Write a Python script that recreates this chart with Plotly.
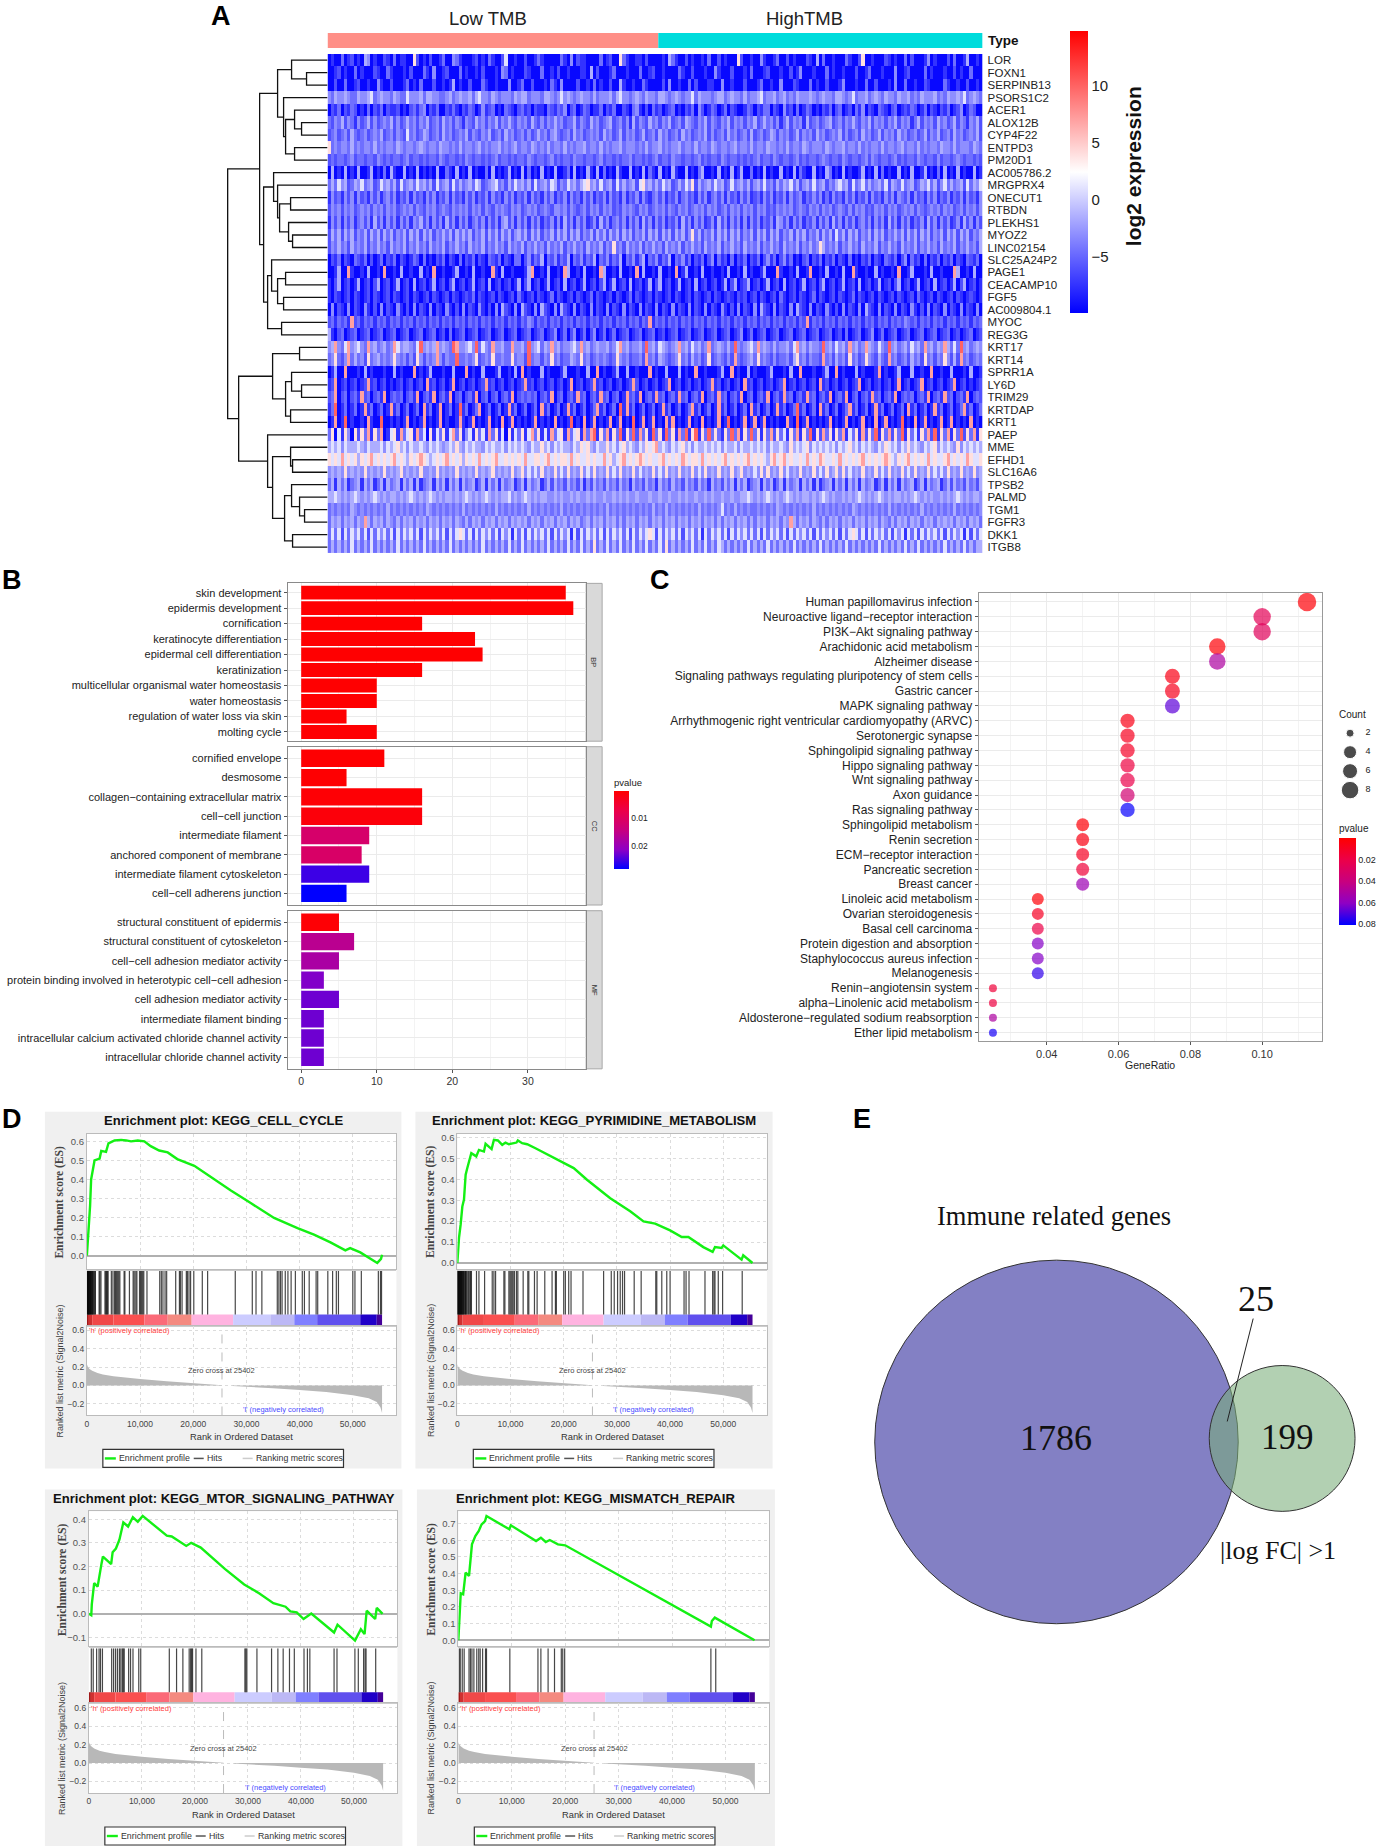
import plotly.graph_objects as go

W, H = 1381, 1847
SANS = "Liberation Sans"
SERIF = "Liberation Serif"

# ---------- Panel A data ----------
GENES = ["LOR","FOXN1","SERPINB13","PSORS1C2","ACER1","ALOX12B","CYP4F22","ENTPD3","PM20D1","AC005786.2",
         "MRGPRX4","ONECUT1","RTBDN","PLEKHS1","MYOZ2","LINC02154","SLC25A24P2","PAGE1","CEACAMP10","FGF5",
         "AC009804.1","MYOC","REG3G","KRT17","KRT14","SPRR1A","LY6D","TRIM29","KRTDAP","KRT1",
         "PAEP","MME","EFHD1","SLC16A6","TPSB2","PALMD","TGM1","FGFR3","DKK1","ITGB8"]
EXPR_LEVELS = [-9.5, -7.5, -6, -4.5, -3, -1.5, 1, 4, 7, 10]
EXPR_ROWS = [
"01003012010540100210301100720102001300431000120103100260010020013100000310402110000301200731001102000010531002010010300201000720010041001300201000210503001000310027001000210100302000140100020300150010",
"00120100301000210031000102000310400120003010010200010430100021000300102001000110502000130001000300120010000310020001004100020001030001200010020140001000301001000200130001000400120000301000100201003000",
"00200300120010041002000130103000200101501002000310010004001300200010310400002001030100200510010031000020400100302000110040010002000130010040002100030100200014000100300200010400300100210000310010020010",
"43544543354456345443543364445355443345345445356443543444354553444355434645434544353444535644345435443554345434463544434553454435344563445345343544454345443554346344534543544354453435444534354454634543",
"02130213201030213021120102313402130021310213201412301032102312021103213240230132011302130021034102031201230102130420132013021001320213302104120301320102130230120314021032102301213201302102130124013200",
"32435243142352423435242353424352342534243143253424352435324342532424353423352432534234523424152432534243523425432435243243524342435235342413524341523423452342435324352434243524341352434253423524314352",
"23423425323423435234243263423542342534234352432435234253423424235342453234253423434253423524342352342534234253423435242342534234252342354243423524342534234352423425342352434253423423524352342534234352",
"73434435343443534344354344345434435443435344345343445343453443543435344353434453443534344534443435344534344534435344354344345344353443544343534435434443543445344353434435344345344353434435443534443543",
"23233234233233243232332342332323324323323243233232342332323324323323423233243323323423323233423323234233243323323423233243233232323423324323323423233234323324323323424323323423233243233242332343233232",
"05010501050015010305100501050101050031050105010030501015010503010501050013050105105030105100501050310501051005010350010501050150030105010050105031005010530105010015010503010050105001501030501050100501",
"35364523546345236453526345364535263452635345365234563425364535263453652436453567453634526353452674535364523536472534536452363453524536342535463524536345243564526346353453625436345235463524635345263546",
"14231424142314241342413241423142413241423142413241423142413241423142413241423142413241423141324142134241324134231424134241423142412314241324142341324241314231424132414231424143241423142413241324142314",
"24342434234342434243423434243243423432434342434243243432434234342343244342432342434243423243432434234342432434234342434234243424342434232434342343243424342343242434232434243423434243234342434234243424",
"14241424134241524142414241435241424152414241342414241452414241424132414152414241241524134241424152414241324152414241241524142414142413241542414241324142415241424134241424152414241324152414241241524142",
"25352535243525352535243525352535243535253535243525352535245352535243525352535243525352535253524352535253525352473524352535253524352535253524352535243525352635253524352535243535253525352435253525352435",
"24353425343524353425343524353425343524353425343524353425343524353425343524353425343524373425343524353425343524353425343524353425343524353425343524353475343524353425343524353425343524353425343524353425",
"02130210321302013021302101320301021302103021302103213021033024132503241325032413250324132503241350324132503241302130240312030213021302413024130102302130213021030102130210321302403120302130213021032130",
"00150081001050010800105001005010800100150010500100810500100015800105001085001050010850010500108050010500108015001050010010500105010015000810010500180010500105008100100501001080015000105001000850010500",
"10250120150120250120150120501201501202501201501205012012015025012015012050120150120250150120501201502501201501205012012015025012501201501205012015012025012015012050120150120250120150120501201502501201",
"10210120210120210120210120210120210120210121302101202101203101202101302101202101302101202101302101202101202101202101202101210212012021012031012021013021012021013021012021012021012031012021012021012101",
"04021040210410204021041020402104021041020402104102040521040521040521040521040210402104021040210402104021040210402104021041020402104052104021040521040210410204021040521040210402104102040210402104021040",
"23132318231323132313231323132313231323132313231323132313231324313231323132313231323132313231323132813231323132313231323132313231323132313231323132813231323132313231323132313232432313231323132313231323",
"51023012301230123012301230123012301203012301230123012301230123012301240130240130240130130123012301230120123012301230123012301240130123012301230123012301230120301230124013012301230123012301230120123012",
"45843684564384534534864554369454584543984456493643844533844539456354845344564845345445346845344539453654345845364534834543539434564845435344536845354439453645384534854364394534536453845354853639453454",
"34732483534273453434743424274243484243393343472343733433734429344243734233543734234343237434233428342543234734253423723432428323453734324233425734243328342534273423743253283423425342734243742528342343",
"01500800010501000100501000801015000100500080100500015001050801000501000150001005008010015005001000801005000501008001000150080100501000150001050080001001500801000501000180100150005001008001005000105001",
"12801201201281201201012012012081201201801201201281201201201281201201201201801201281201201201282012012012801201201201281201201208120120120128012012012081201201201280120120120180120128012012012801201012",
"23802302318230231802323023180231802318023023180230230231802323230231802302318230231823023018231802318230231823023180231823023180230231802318230231823023180231802302318230231802323023180231823023180232",
"13901301301813013018130130130813018013019130138013013018130130130813013018130130138130130918130130130181301301381301301813013013081301301813013913013081301301381301301813013013081301301813013013813013",
"01801901001081009001010180101801018010018101801018010801801010180101080101901080180101801801090180180108180101801080101801901018018018010100810901801010180101801018010801801019010801801018018010108010",
"37061740727381738016718367183607163716837146173618371607163716837161836718367183891738173917392837193719371839179173937317393817393717382736173817391728371738163718273917382739173617382917381739273817",
"56564655565465556465675646556546565456575465655465655646565654655756465655465767546557564675654657678565465675646556565646556465565656465565475656746565656465675646565465765646575654656746565474656565",
"76768676757678676767867657678765676786767576768676786676767686677678676776867667676686756786767876766786767687677686767678676767867676578678676676867687667686767678676767876576786767686766786767687667",
"45454745454745454745457454547445474545474545474545745454745746464745474647454746474547464745474645474647454745474647454745474574546474745474645474547464745747464547454746474547464745474646474547454745",
"35153513451535135153451535151345153515351534513515351534513515345135253425342514253425342534153425341534253425342534153425351535134515351351534515351513451535153515345135153515345135153451352534253425",
"55654545654545654545545456545456545455454565454565454556454565454554454544545445454454454545445444544544544545445445454454454455654545654545654545545456545445454565454565454554545654545445454565454554",
"34343435434343434353434343434354343434343534343434353434343435343434343534343434343435343434343434353435343434343534343463435343433434343543434343435343434343435434343434353434343435343434343534343434",
"35453545354853545354353545354535453545354353545354535453545453545354535453545345354535453535453545354535453545354535453535453545353545354535485354535435354535453545354535435354535453545354545354535453",
"36362636463626364636263646362636463626367636263646362646163626364636263646162636463626364636263646762636463626463616364636263646363626364636263646362636463626367636263646362646163626364636263646162636",
"35353536353536353535363535353635353536353535353635353536353635353536353536353635373536353635363536353637353535363536353653535353635353635353536353535363535353635353535363535353635363535353635353635355",
]
TYPE_NAMES = ["Low TMB", "HighTMB"]
TYPE_SAMPLES = [152, 149]
CB_A_TICKS = [-5, 0, 5, 10]

# ---------- Panel B data ----------
BP_TERMS = ["skin development","epidermis development","cornification","keratinocyte differentiation",
            "epidermal cell differentiation","keratinization","multicellular organismal water homeostasis",
            "water homeostasis","regulation of water loss via skin","molting cycle"]
BP_COUNTS = [35, 36, 16, 23, 24, 16, 10, 10, 6, 10]
BP_P = [0.0001, 0.0001, 0.0001, 0.0001, 0.0001, 0.0001, 0.0001, 0.0001, 0.0002, 0.0002]
CC_TERMS = ["cornified envelope","desmosome","collagen−containing extracellular matrix","cell−cell junction",
            "intermediate filament","anchored component of membrane","intermediate filament cytoskeleton",
            "cell−cell adherens junction"]
CC_COUNTS = [11, 6, 16, 16, 9, 8, 9, 6]
CC_P = [0.0002, 0.0002, 0.0005, 0.001, 0.0115, 0.011, 0.0255, 0.0285]
MF_TERMS = ["structural constituent of epidermis","structural constituent of cytoskeleton",
            "cell−cell adhesion mediator activity","protein binding involved in heterotypic cell−cell adhesion",
            "cell adhesion mediator activity","intermediate filament binding",
            "intracellular calcium activated chloride channel activity","intracellular chloride channel activity"]
MF_COUNTS = [5, 7, 5, 3, 5, 3, 3, 3]
MF_P = [0.0005, 0.016, 0.018, 0.022, 0.023, 0.023, 0.023, 0.023]

# ---------- Panel C data ----------
KEGG_TERMS = ["Human papillomavirus infection","Neuroactive ligand−receptor interaction","PI3K−Akt signaling pathway",
    "Arachidonic acid metabolism","Alzheimer disease","Signaling pathways regulating pluripotency of stem cells",
    "Gastric cancer","MAPK signaling pathway","Arrhythmogenic right ventricular cardiomyopathy (ARVC)",
    "Serotonergic synapse","Sphingolipid signaling pathway","Hippo signaling pathway","Wnt signaling pathway",
    "Axon guidance","Ras signaling pathway","Sphingolipid metabolism","Renin secretion","ECM−receptor interaction",
    "Pancreatic secretion","Breast cancer","Linoleic acid metabolism","Ovarian steroidogenesis","Basal cell carcinoma",
    "Protein digestion and absorption","Staphylococcus aureus infection","Melanogenesis","Renin−angiotensin system",
    "alpha−Linolenic acid metabolism","Aldosterone−regulated sodium reabsorption","Ether lipid metabolism"]
KEGG_COUNT = [9,8,8,7,7,6,6,6,5,5,5,5,5,5,5,4,4,4,4,4,3,3,3,3,3,3,2,2,2,2]
KEGG_RATIO = [0.1125,0.1,0.1,0.0875,0.0875,0.075,0.075,0.075,0.0625,0.0625,0.0625,0.0625,0.0625,0.0625,0.0625,
              0.05,0.05,0.05,0.05,0.05,0.0375,0.0375,0.0375,0.0375,0.0375,0.0375,0.025,0.025,0.025,0.025]
KEGG_P = [0.002,0.025,0.027,0.002,0.05,0.006,0.008,0.068,0.006,0.009,0.011,0.018,0.021,0.035,0.08,
          0.002,0.005,0.010,0.016,0.056,0.002,0.010,0.02,0.062,0.062,0.074,0.016,0.018,0.05,0.078]
COUNT_SIZE = {2: 8, 3: 12, 4: 13, 5: 14.3, 6: 15, 7: 16.5, 8: 17.5, 9: 18.5}
COUNT_KEYS = [2, 4, 6, 8]

# ---------- Panel D data ----------
CELL_RANK = [0,200,400,600,800,1440,2400,2700,3600,4060,5200,6440,7400,8300,9560,10800,12000,13600,15200,17000,
             20200,23300,27000,30800,35200,39600,42700,45800,48600,49500,51400,54600,55300,55500]
CELL_ES = [0,.08,.17,.26,.40,.50,.51,.55,.545,.59,.605,.608,.605,.60,.605,.60,.575,.552,.542,.507,
           .472,.413,.343,.276,.198,.145,.11,.07,.028,.04,.017,-.038,-.017,.005]
CELL_HITS = [50,120,180,250,320,400,480,560,640,720,800,900,1000,1100,1200,1350,1500,1600,2300,2450,2650,3400,3550,
             3700,3850,4000,4600,4900,5200,5400,5600,5800,6000,6200,7000,7150,8000,8700,8900,9200,9400,9900,10100,
             10300,10500,10700,11300,13700,14000,14300,14700,15000,16700,17400,17600,17900,18700,18900,19200,19500,
             20100,21700,22700,27900,31100,31800,32900,35800,36100,36400,36700,37300,37800,38400,39200,40500,40900,
             41800,43100,43400,45300,46200,46900,47300,50000,50400,51600,54800,55200,55400]
PYR_RANK = [0,310,620,940,1250,1560,1875,2625,3560,4060,5000,5310,6440,6875,7625,8440,9060,9690,11125,11375,12190,
            13125,14690,16250,17500,18440,20000,21875,24375,28750,32500,35000,37190,40000,42190,43440,46250,48000,
            48440,49690,50000,53440,53750,55500]
PYR_ES = [0,.12,.183,.27,.303,.422,.454,.525,.51,.541,.533,.57,.545,.589,.586,.565,.576,.568,.576,.586,.573,
          .568,.549,.529,.51,.50,.478,.454,.398,.31,.247,.199,.188,.156,.124,.124,.076,.053,
          .076,.072,.084,.016,.037,0]
PYR_HITS = [40,110,180,260,340,420,500,580,660,740,820,900,1000,1100,1200,1300,1450,1550,1650,1800,2000,2150,2350,
            2500,2650,3600,4060,5125,6560,6875,7190,8750,8940,9690,9900,10100,10300,10500,10750,11125,11375,12375,
            13250,13440,14500,15000,16440,17810,18440,18620,20000,20310,20940,21375,23625,27500,28940,29500,30125,
            30625,31060,31440,33250,34560,37310,37500,38440,39375,40000,42625,43000,43560,46560,48000,48250,48440,
            49060,49875,53560]
MTOR_RANK = [0,450,550,800,1000,1650,1900,2400,2650,4200,4480,5100,5760,6500,7400,8300,9230,10150,14700,15630,18370,
             19300,21100,25700,29300,32100,34800,37100,38000,39200,40500,41950,46250,46900,50200,51300,52000,52400,
             54000,54300,55400]
MTOR_ES = [0,-.006,.04,.09,.13,.115,.153,.214,.242,.21,.26,.276,.313,.386,.369,.408,.389,.414,.33,.327,.287,
           .30,.28,.189,.124,.087,.045,.03,.01,.006,-.022,.001,-.079,-.046,-.113,-.065,-.086,.013,
           -.022,.025,0]
MTOR_HITS = [460,820,1460,1920,2190,2560,4300,4660,5030,5390,5760,6030,6310,6490,6670,7500,7860,8320,9410,9780,15170,
             16540,17730,18920,19190,19380,19560,20200,21300,29430,29610,29800,31700,34460,35650,36650,37840,38750,
             40580,41220,41680,46250,46800,50180,50820,51820,52100,52280,54100]
MMR_RANK = [0,180,450,900,1100,1360,2000,2270,2550,3180,3820,4360,5000,5270,9550,9820,14550,15450,16360,17100,18640,
            20000,47270,47450,48000,55450]
MMR_ES = [0,.106,.282,.276,.346,.406,.386,.496,.576,.626,.656,.696,.716,.746,.666,.69,.596,.616,.59,.602,.576,
          .57,.082,.116,.136,0]
MMR_HITS = [180,360,730,1090,2000,2270,2550,2910,3450,3820,4090,4545,5090,5270,9640,14900,15450,16800,18000,19270,
            19540,19900,47270,48180]
GSEA_TITLES = ["Enrichment plot: KEGG_CELL_CYCLE","Enrichment plot: KEGG_PYRIMIDINE_METABOLISM",
               "Enrichment plot: KEGG_MTOR_SIGNALING_PATHWAY","Enrichment plot: KEGG_MISMATCH_REPAIR"]
BAND_EDGES = [0,300,1000,5000,10800,15200,19700,27500,34500,39000,43300,51400,54500,55500]
BAND_COLORS = ['#a01818','#d03030','#f04848','#fa5050','#fb6a78','#f48a80','#ffb3e0','#ccccff','#bcb8f5','#7f7fff',
               '#6050ee','#2000c8','#440099']
METRIC_POS_RANK = [0,200,500,1000,2000,3000,5000,8000,10000,15000,20000,25000,25402]
METRIC_POS = [.23,.20,.18,.16,.135,.12,.10,.08,.07,.045,.025,.008,.004]
METRIC_NEG_RANK = [27400,30000,35000,40000,45000,50000,53000,54500,55200,55500]
METRIC_NEG = [-.005,-.012,-.03,-.05,-.07,-.105,-.14,-.18,-.24,-.30]
METRIC_TICKS = [-0.2, 0, 0.2, 0.4, 0.6]
RANK_TICKS = [0, 10000, 20000, 30000, 40000, 50000]
ZERO_CROSS = 25402

# ---------- Panel E data ----------
VENN_LABELS = ["1786", "199", "25"]

# ---------- helpers ----------
layout = dict(width=W, height=H, margin=dict(l=0, r=0, t=0, b=0), paper_bgcolor="white", plot_bgcolor="white",
              showlegend=False, barmode="overlay", font=dict(family=SANS, color="#222"))
annots, shapes, traces = [], [], []
nax = [0]
BASE = dict(showgrid=False, zeroline=False, showticklabels=False, ticks="", showline=False)

def axes(x0, y0, x1, y1, xkw=None, ykw=None):
    nax[0] += 1
    n = nax[0]
    sx = "" if n == 1 else str(n)
    layout["xaxis" + sx] = {**BASE, "domain": [x0 / W, x1 / W], "anchor": "y" + sx, **(xkw or {})}
    layout["yaxis" + sx] = {**BASE, "domain": [1 - y1 / H, 1 - y0 / H], "anchor": "x" + sx, **(ykw or {})}
    return "x" + sx, "y" + sx

def txt(x, y, s, size, color="#222", anchor="center", family=SANS, bold=False, angle=0):
    annots.append(dict(xref="paper", yref="paper", x=x / W, y=1 - y / H, text=("<b>%s</b>" % s) if bold else s,
                       showarrow=False, xanchor=anchor, yanchor="middle", textangle=angle,
                       font=dict(size=size, color=color, family=family), borderpad=0, borderwidth=0))

def box(x0, y0, x1, y1, fill=None, line=None, lw=1, layer="below"):
    shapes.append(dict(type="rect", xref="paper", yref="paper", x0=x0 / W, x1=x1 / W, y0=1 - y0 / H, y1=1 - y1 / H,
                       fillcolor=fill or "rgba(0,0,0,0)", line=dict(color=line or "rgba(0,0,0,0)", width=lw if line else 0),
                       layer=layer))

def seg(x0, y0, x1, y1, color, lw, layer="above"):
    shapes.append(dict(type="line", xref="paper", yref="paper", x0=x0 / W, x1=x1 / W, y0=1 - y0 / H, y1=1 - y1 / H,
                       line=dict(color=color, width=lw), layer=layer))

# ---------- Panel A ----------
txt(219, 14, "A", 27, "#000", bold=True)
z = [[EXPR_LEVELS[int(c)] for c in row] for row in EXPR_ROWS]
ncol = min(len(r) for r in z)
z = [r[:ncol] for r in z]
xa, ya = axes(326, 52, 982, 552, dict(range=[0, ncol]),
              dict(range=[39.5, -0.5], side="right", showticklabels=True, tickmode="array", ticklabelstandoff=4,
                   tickvals=list(range(40)), ticktext=GENES, tickfont=dict(size=11.5, color="#222")))
traces.append(go.Heatmap(z=z, x0=0.5, dx=1, y0=0, dy=1, coloraxis="coloraxis", xaxis=xa, yaxis=ya, hoverinfo="skip"))
layout["coloraxis"] = dict(cmin=-9.9, cmax=14.8, colorscale=[[0, "#0000ff"], [0.5, "#ffffff"], [1, "#ff0000"]],
    colorbar=dict(x=1070 / W, xanchor="left", y=1 - 29 / H, yanchor="top", len=282, lenmode="pixels", thickness=18,
                  thicknessmode="pixels", xpad=0, ypad=0, outlinewidth=0, ticks="", tickvals=CB_A_TICKS,
                  ticktext=["−5", "0", "5", "10"], tickfont=dict(size=15, color="#222", family=SANS)))
xt, yt = axes(326, 31, 982, 46, dict(range=[0, sum(TYPE_SAMPLES)]), dict(range=[0, 1]))
traces.append(go.Bar(x=TYPE_SAMPLES, base=[0, TYPE_SAMPLES[0]], y=[0.5, 0.5], width=1, orientation="h",
                     marker=dict(color=["#ff8f87", "#00dcdc"], line=dict(width=0)), xaxis=xt, yaxis=yt, hoverinfo="skip"))
txt(487, 17, TYPE_NAMES[0], 18.5)
txt(804, 17, TYPE_NAMES[1], 18.5)
txt(987, 39, "Type", 13.5, "#111", "left", bold=True)
txt(1133, 164, "log2 expression", 21, "#111", bold=True, angle=-90)

def dendro(node, xs, ys):
    if isinstance(node, int):
        return node, 0
    a, b, h = node
    ya_, ha = dendro(a, xs, ys)
    yb_, hb = dendro(b, xs, ys)
    xs += [ha, h, h, hb, None]
    ys += [ya_, ya_, yb_, yb_, None]
    return (ya_ + yb_) / 2, h

TOP = (((0, (1, 2, 21), 36), (3, ((4, (5, 6, 26), 33), (7, 8, 33), 42), 44), 50),
       ((9, (10, ((11, 12, 37), (13, (14, 15, 35), 39), 48), 50), 54),
        ((16, ((17, 18, 42), (19, 20, 44), 50), 56), (21, 22, 46), 60), 64), 68)
BOTTOM = (((23, 24, 28), ((25, (26, 27, 26), 36), (28, 29, 37), 42), 55),
          (30, ((31, (32, 33, 35), 37), ((34, (35, (36, 37, 23), 28), 36), (38, 39, 35), 43), 55), 60), 89)
DX, DY = [], []
dendro((TOP, BOTTOM, 100), DX, DY)
xd, yd = axes(224, 52, 326, 552, dict(range=[102, 0]), dict(range=[39.5, -0.5]))
traces.append(go.Scatter(x=DX, y=DY, mode="lines", line=dict(color="#111", width=1.3), xaxis=xd, yaxis=yd, hoverinfo="skip"))

# ---------- Panel B ----------
txt(10, 579, "B", 27, "#000", bold=True)
PCS = [[0, "#0000FF"], [.25, "#8F00C4"], [.5, "#C8007F"], [.75, "#EC0048"], [1, "#FF0000"]]
layout["coloraxis2"] = dict(cmin=-0.0285, cmax=0, colorscale=PCS,
    colorbar=dict(x=613 / W, xanchor="left", y=1 - 790 / H, yanchor="top", len=78, lenmode="pixels", thickness=15,
                  thicknessmode="pixels", xpad=0, ypad=0, outlinewidth=0, ticks="", tickvals=[-0.01, -0.02],
                  ticktext=["0.01", "0.02"], tickfont=dict(size=8.5, color="#222", family=SANS)))
facets = [("BP", BP_TERMS, BP_COUNTS, BP_P, 582, 740), ("CC", CC_TERMS, CC_COUNTS, CC_P, 745.5, 904),
          ("MF", MF_TERMS, MF_COUNTS, MF_P, 909.7, 1068)]
for i, (name, terms, counts, ps, y0, y1) in enumerate(facets):
    n = len(terms)
    bx, by = axes(286, y0, 585, y1,
        dict(range=[-1.8, 37.7], showgrid=True, gridcolor="#ebebeb", tickvals=[0, 10, 20, 30],
             minor=dict(showgrid=True, gridcolor="#f3f3f3", tickvals=[5, 15, 25, 35]), showline=True, mirror=True,
             linecolor="#8a8a8a", showticklabels=i == 2, ticks="outside" if i == 2 else "", ticklen=3, tickcolor="#555",
             tickfont=dict(size=10.5, color="#333")),
        dict(range=[n - 0.4, -0.6], showgrid=True, gridcolor="#ebebeb", tickmode="array", tickvals=list(range(n)),
             ticktext=terms, showticklabels=True, ticks="outside", ticklen=3, tickcolor="#555", showline=True, mirror=True,
             linecolor="#8a8a8a", tickfont=dict(size=11, color="#222")))
    traces.append(go.Bar(x=counts, y=list(range(n)), orientation="h", width=0.9,
                         marker=dict(color=[-p for p in ps], coloraxis="coloraxis2", line=dict(width=0)),
                         xaxis=bx, yaxis=by, hoverinfo="skip"))
    box(585, y0, 601, y1, "#d9d9d9", "#a8a8a8", 1)
    txt(593, (y0 + y1) / 2, name, 7.5, "#333", angle=90)
txt(613, 781, "pvalue", 9.5, "#222", "left")

# ---------- Panel C ----------
txt(659, 579, "C", 27, "#000", bold=True)
layout["coloraxis3"] = dict(cmin=-0.081, cmax=0, colorscale=PCS,
    colorbar=dict(x=1339 / W, xanchor="left", y=1 - 837 / H, yanchor="top", len=87, lenmode="pixels", thickness=17,
                  thicknessmode="pixels", xpad=0, ypad=0, outlinewidth=0, ticks="", tickvals=[-.02, -.04, -.06, -.08],
                  ticktext=["0.02", "0.04", "0.06", "0.08"], tickfont=dict(size=9, color="#222", family=SANS)))
cx, cy = axes(978, 592, 1322, 1040,
    dict(range=[.021, .1167], showgrid=True, gridcolor="#ebebeb", tickvals=[.04, .06, .08, .10], ticktext=["0.04", "0.06", "0.08", "0.10"],
         minor=dict(showgrid=True, gridcolor="#f3f3f3", tickvals=[.03, .05, .07, .09, .11]), showline=True, mirror=True,
         linecolor="#999", showticklabels=True, tickfont=dict(size=11, color="#333"), ticks="outside", ticklen=3, tickcolor="#555"),
    dict(range=[29.55, -0.58], showgrid=True, gridcolor="#ebebeb", tickmode="array", tickvals=list(range(30)),
         ticktext=KEGG_TERMS, showticklabels=True, ticks="outside", ticklen=3, tickcolor="#555", showline=True, mirror=True,
         linecolor="#999", tickfont=dict(size=12, color="#222")))
traces.append(go.Scatter(x=KEGG_RATIO, y=list(range(30)), mode="markers", cliponaxis=False,
    marker=dict(size=[COUNT_SIZE[c] for c in KEGG_COUNT], color=[-p for p in KEGG_P], coloraxis="coloraxis3", line=dict(width=0)),
    xaxis=cx, yaxis=cy, hoverinfo="skip"))
txt(1150, 1064, "GeneRatio", 10.5, "#222")
txt(1339, 713, "Count", 10, "#222", "left")
txt(1339, 827, "pvalue", 10, "#222", "left")
lx, ly = axes(1340, 720, 1380, 800, dict(range=[-10, 30]), dict(range=[9.16, 0.74]))
traces.append(go.Scatter(x=[0] * 4, y=COUNT_KEYS, mode="markers", marker=dict(color="#000", size=[COUNT_SIZE[c] for c in COUNT_KEYS]),
                         xaxis=lx, yaxis=ly, hoverinfo="skip"))
traces.append(go.Scatter(x=[18] * 4, y=COUNT_KEYS, mode="text", text=[str(c) for c in COUNT_KEYS],
                         textfont=dict(size=9, color="#222"), xaxis=lx, yaxis=ly, hoverinfo="skip"))

# ---------- Panel D ----------
txt(10, 1118, "D", 27, "#000", bold=True)
GSEA = [
    dict(bg=(43, 400), left=85, right=395, top=1133, cx=222, es=(CELL_RANK, CELL_ES), hits=CELL_HITS, rng=[-.068, .64], ticks=[0, .1, .2, .3, .4, .5, .6]),
    dict(bg=(414, 771.7), left=456, right=766, top=1133, cx=593, es=(PYR_RANK, PYR_ES), hits=PYR_HITS, rng=[-.027, .618], ticks=[0, .1, .2, .3, .4, .5, .6]),
    dict(bg=(43, 401), left=87, right=396, top=1511, cx=222, es=(MTOR_RANK, MTOR_ES), hits=MTOR_HITS, rng=[-.137, .433], ticks=[-.1, 0, .1, .2, .3, .4]),
    dict(bg=(415.5, 774), left=457, right=768.4, top=1511, cx=594, es=(MMR_RANK, MMR_ES), hits=MMR_HITS, rng=[-.036, .774], ticks=[0, .1, .2, .3, .4, .5, .6, .7]),
]
GRID = dict(showgrid=True, gridcolor="#dcdcdc", griddash="dot")
for p, title in zip(GSEA, GSEA_TITLES):
    L, R, T = p["left"], p["right"], p["top"]
    box(p["bg"][0], T - 22, p["bg"][1], T + 335, "#f0f0f0")
    box(L, T, R, T + 282, "#ffffff")
    txt(p["cx"], T - 13, title, 13.1, "#111", bold=True)
    ex, ey = axes(L, T, R, T + 135,
        dict(range=[0, 58200], tickvals=RANK_TICKS, showline=True, mirror=True, linecolor="#bbb", **GRID),
        dict(range=p["rng"], tickvals=p["ticks"], tickformat=".1f", showticklabels=True, tickfont=dict(size=9.5, color="#555"),
             zeroline=True, zerolinecolor="#b0b0b0", zerolinewidth=2, showline=True, mirror=True, linecolor="#bbb", **GRID))
    traces.append(go.Scatter(x=p["es"][0], y=p["es"][1], mode="lines", line=dict(color="#14f014", width=2.4), xaxis=ex, yaxis=ey, hoverinfo="skip"))
    hx, hy = axes(L, T + 137, R, T + 192, dict(range=[0, 58200], showline=True, mirror=True, linecolor="#ccc"), dict(range=[-.25, 1]))
    traces.append(go.Bar(x=[b - a for a, b in zip(BAND_EDGES, BAND_EDGES[1:])], base=BAND_EDGES[:-1], y=[-.125] * len(BAND_COLORS),
                         width=.25, orientation="h", marker=dict(color=BAND_COLORS, line=dict(width=0)), xaxis=hx, yaxis=hy, hoverinfo="skip"))
    hxs, hys = [], []
    for r in p["hits"]:
        hxs += [r, r, None]
        hys += [0, 1, None]
    traces.append(go.Scatter(x=hxs, y=hys, mode="lines", line=dict(color="rgba(0,0,0,.72)", width=1.2), xaxis=hx, yaxis=hy, hoverinfo="skip"))
    mx, my = axes(L, T + 192, R, T + 282,
        dict(range=[0, 58200], tickvals=RANK_TICKS, tickformat=",d", showticklabels=True, tickfont=dict(size=8.5, color="#444"),
             showline=True, mirror=True, linecolor="#bbb", **GRID),
        dict(range=[-.326, .652], tickvals=METRIC_TICKS, tickformat=".1f", showticklabels=True, tickfont=dict(size=8.5, color="#444"),
             showline=True, mirror=True, linecolor="#bbb", **GRID))
    traces.append(go.Scatter(x=METRIC_POS_RANK, y=METRIC_POS, mode="lines", fill="tozeroy", fillcolor="#b8b8b8", line=dict(width=0, color="#b8b8b8"), xaxis=mx, yaxis=my, hoverinfo="skip"))
    traces.append(go.Scatter(x=METRIC_NEG_RANK, y=METRIC_NEG, mode="lines", fill="tozeroy", fillcolor="#b8b8b8", line=dict(width=0, color="#b8b8b8"), xaxis=mx, yaxis=my, hoverinfo="skip"))
    traces.append(go.Scatter(x=[ZERO_CROSS, ZERO_CROSS], y=[-.326, .652], mode="lines", line=dict(color="#bbb", width=1, dash="dash"), xaxis=mx, yaxis=my, hoverinfo="skip"))
    txt(L + 2, T + 197, "'h' (positively correlated)", 7.5, "#ff4040", "left")
    txt(L + 156, T + 276, "'l' (negatively correlated)", 7.5, "#4a4aff", "left")
    txt(L + (ZERO_CROSS / 58200) * (R - L), T + 237, "Zero cross at 25402", 7.5, "#444")
    txt(L - 27, T + 68, "Enrichment score (ES)", 11.6, "#444", bold=True, family=SERIF, angle=-90)
    txt(L - 27, T + 237, "Ranked list metric (Signal2Noise)", 9, "#444", angle=-90)
    txt((L + R) / 2, T + 304, "Rank in Ordered Dataset", 9.3, "#333")
    box(L + 16, T + 316, L + 257, T + 334, "#ffffff", "#333", 1.2, "above")
    seg(L + 18, T + 325, L + 29, T + 325, "#14f014", 2.4)
    txt(L + 32, T + 325, "Enrichment profile", 8.8, "#333", "left")
    seg(L + 107, T + 325, L + 117, T + 325, "#555", 1.5)
    txt(L + 120, T + 325, "Hits", 8.8, "#333", "left")
    seg(L + 156, T + 325, L + 166, T + 325, "#ccc", 1.5)
    txt(L + 169, T + 325, "Ranking metric scores", 8.8, "#333", "left")

# ---------- Panel E ----------
txt(861, 1118, "E", 27, "#000", bold=True)
def circle(cx_, cy_, r, fill):
    shapes.append(dict(type="circle", xref="paper", yref="paper", x0=(cx_ - r) / W, x1=(cx_ + r) / W, y0=1 - (cy_ - r) / H, y1=1 - (cy_ + r) / H,
                       fillcolor=fill, line=dict(color="#333", width=1), layer="below"))
circle(1056, 1441.5, 182, "#8380c4")
circle(1282, 1438, 73, "rgba(121,173,121,.576)")
seg(1253, 1318, 1227, 1421, "#222", 1)
txt(1054, 1215, "Immune related genes", 26.5, "#111", family=SERIF)
txt(1056, 1437.5, VENN_LABELS[0], 36, "#111", family=SERIF)
txt(1287, 1437.5, VENN_LABELS[1], 35, "#111", family=SERIF)
txt(1256, 1298, VENN_LABELS[2], 36, "#111", family=SERIF)
txt(1278, 1550, "|log FC| &gt;1", 26, "#111", family=SERIF)

layout["annotations"] = annots
layout["shapes"] = shapes
fig = go.Figure(data=traces, layout=layout)
fig.write_html("out.html", config={"displayModeBar": False}, post_script="document.body.style.margin='0';")
